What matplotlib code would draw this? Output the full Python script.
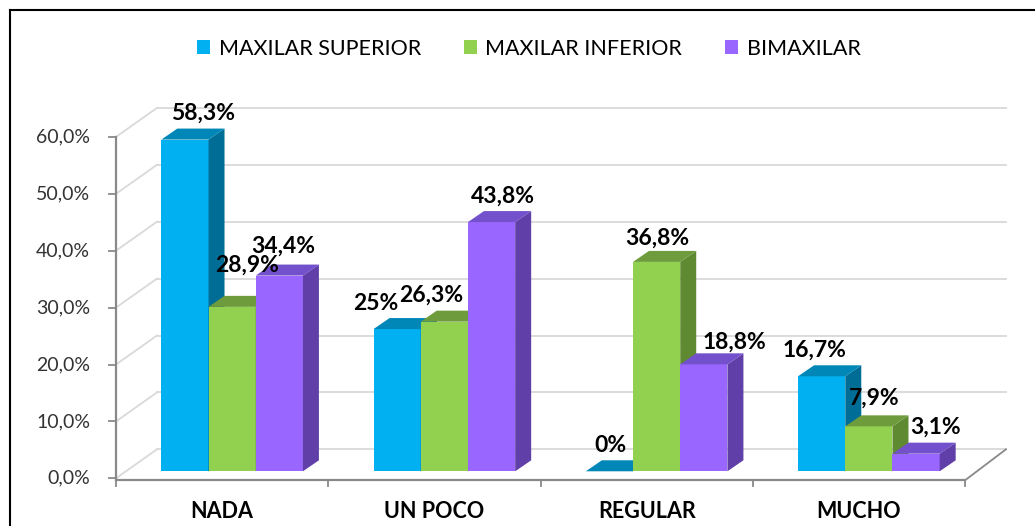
import matplotlib
matplotlib.use("Agg")
import matplotlib.pyplot as plt
from matplotlib.patches import Patch
from matplotlib.lines import Line2D

categorias = ["NADA", "UN POCO", "REGULAR", "MUCHO"]
series = ["MAXILAR SUPERIOR", "MAXILAR INFERIOR", "BIMAXILAR"]
superior = [58.3, 25.0, 0.0, 16.7]
inferior = [28.9, 26.3, 36.8, 7.9]
bimaxilar = [34.4, 43.8, 18.8, 3.1]
etiquetas = [["58,3%", "25%", "0%", "16,7%"],
             ["28,9%", "26,3%", "36,8%", "7,9%"],
             ["34,4%", "43,8%", "18,8%", "3,1%"]]
yticks = [0, 10, 20, 30, 40, 50, 60]

# colores: frente, lado, tapa
colores = [("#00B0F0", "#006D96", "#0087B8"),
           ("#92D050", "#5F8A31", "#6E9B3C"),
           ("#9966FF", "#6040A8", "#7350CC")]

# escala en pixeles (figura 1035x526, dpi 100)
PXX = 212.25   # pixeles por categoria
PXY = 5.69     # pixeles por 1%
X0, Y0 = 116, 478.3

def px(d):
    return d / PXX

def py(d):
    return d / PXY

FDX, FDY = px(41), py(29)     # profundidad de pared/suelo
BDX, BDY = px(16), py(11)     # profundidad de cada barra
ODX, ODY = px(10), py(7)      # desplazamiento del frente de las barras
W = px(47.2)

# ajustes finos de las etiquetas (pixeles)
nudge = [[(10, 0), (-29, 0), (-7, 0), (-15, 0)],
         [(7, 16), (-21, 0), (-7, -2), (-3, 2)],
         [(-4, 3), (3, 0), (23, -4), (11, 0)]]

fig = plt.figure(figsize=(10.35, 5.26), dpi=100)
ax = fig.add_axes([0, 0, 1, 1])
ax.set_xlim(-X0 / PXX, (1035 - X0) / PXX)
ax.set_ylim((Y0 - 526) / PXY, Y0 / PXY)
ax.axis("off")

plt.rcParams['font.family'] = ['Lato', 'DejaVu Sans']
grid_c = "#D9D9D9"
axis_c = "#898989"
n = len(categorias)

# pared trasera y pared izquierda
for v in yticks:
    ax.plot([FDX, n + FDX], [v + FDY, v + FDY], color=grid_c, lw=1.3, zorder=1)
    ax.plot([0, FDX], [v, v + FDY], color=grid_c, lw=1.3, zorder=1)
# suelo
ax.plot([n, n + FDX], [-py(2), FDY], color=axis_c, lw=1.3, zorder=1)
ax.plot([0, n], [-py(2), -py(2)], color=axis_c, lw=1.6, zorder=1)
for i in range(n + 1):
    ax.plot([i, i], [-py(2), -py(8)], color=axis_c, lw=1.3, zorder=1)
# eje y
ax.plot([0, 0], [-py(2), 60], color=axis_c, lw=1.6, zorder=1)
for v in yticks:
    ax.plot([-px(7), 0], [v, v], color=axis_c, lw=1.3, zorder=1)
    ax.text(-px(26), v, ("%.1f%%" % v).replace(".", ","), ha="right", va="center",
            fontsize=14, color="#333333")

# barras
datos = [superior, inferior, bimaxilar]
for i in range(n):
    for j, vals in enumerate(datos):
        v = vals[i]
        x = i + 0.5 - 1.5 * W + j * W + ODX
        b = ODY
        fc, sc, tc = colores[j]
        z = 3 + j
        ax.bar(x, v, W, bottom=b, align="edge", color=fc, lw=0, zorder=z)
        ax.fill([x + W, x + W + BDX, x + W + BDX, x + W],
                [b, b + BDY, b + v + BDY, b + v], color=sc, lw=0, zorder=z)
        ax.fill([x, x + BDX, x + W + BDX, x + W],
                [b + v, b + v + BDY, b + v + BDY, b + v], color=tc, lw=0, zorder=z)
        nx, ny = nudge[j][i]
        ax.text(x + W / 2 + px(8) + px(nx), b + v + BDY + py(15) + py(ny),
                etiquetas[j][i], ha="center", va="center", fontsize=16.5,
                fontweight="bold", color="black", zorder=10)

for i, c in enumerate(categorias):
    ax.text(i + 0.5, py(Y0 - 511), c, ha="center", va="center", fontsize=15.5,
            fontweight="bold", color="black")

# leyenda
handles = [Patch(facecolor=colores[j][0], edgecolor="none") for j in range(3)]
fig.legend(handles, series, loc="center", bbox_to_anchor=(0.511, 0.907), ncol=3,
           frameon=False, fontsize=15.5, handlelength=0.6, handleheight=0.6,
           handletextpad=0.4, columnspacing=2.0)

# marco
fig.add_artist(Line2D([9.5 / 1035, 9.5 / 1035], [0, 1 - 10 / 526], color="black", lw=1.5))
fig.add_artist(Line2D([9.5 / 1035, 1], [1 - 10 / 526, 1 - 10 / 526], color="black", lw=1.5))

fig.savefig("out.png", dpi=100)
